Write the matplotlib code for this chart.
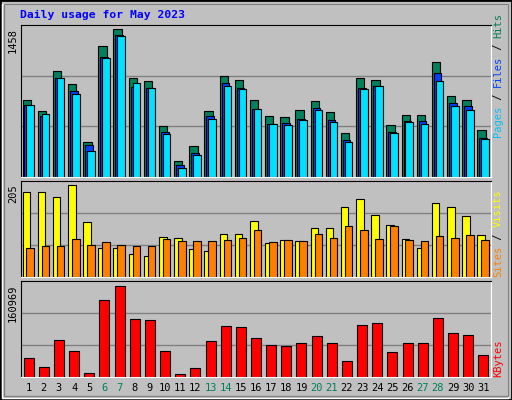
import numpy as np
import matplotlib
matplotlib.use("Agg")
import matplotlib.pyplot as plt
from matplotlib.patches import Rectangle

days = np.arange(1, 32)
weekend = [6, 7, 13, 14, 20, 21, 27, 28]

hits = [755, 654, 1048, 920, 348, 1294, 1458, 979, 949, 506, 161, 309, 654, 998, 959,
        762, 604, 594, 663, 752, 644, 437, 979, 959, 516, 614, 614, 1136, 801, 762, 466]
files = [706, 604, 979, 851, 319, 1186, 1402, 890, 880, 447, 122, 240, 604, 929, 880,
         673, 525, 535, 575, 683, 565, 368, 880, 900, 447, 555, 555, 1028, 732, 703, 388]
pages = [713, 624, 979, 821, 259, 1176, 1392, 929, 880, 427, 92, 220, 575, 900, 870,
         673, 525, 516, 565, 663, 545, 348, 870, 900, 437, 545, 525, 949, 703, 663, 378]
visits = [189, 189, 178, 205, 123, 65, 65, 51, 47, 89, 87, 62, 58, 96, 96, 125, 76,
          82, 80, 109, 109, 156, 174, 138, 116, 85, 65, 165, 156, 136, 94]
sites = [65, 69, 69, 85, 71, 78, 71, 69, 69, 85, 80, 80, 80, 82, 87, 105, 78, 82, 80,
         96, 87, 114, 105, 85, 114, 82, 80, 91, 87, 94, 82]
kbytes = [34075, 18213, 65800, 46413, 7638, 136300, 160969, 102813, 101050, 46413,
          5875, 16450, 64038, 90475, 88713, 69325, 56988, 55225, 60513, 72850, 60513,
          28788, 92238, 95763, 44650, 60513, 60513, 104575, 78138, 74613, 39363]

W, H = 512, 400
BG = "#c0c0c0"
MONO = "DejaVu Sans Mono"

fig = plt.figure(figsize=(W / 100, H / 100), dpi=100, facecolor=BG)

# 3D border of the webalizer image
fig.patches.append(Rectangle((0, 0), 1, 1, transform=fig.transFigure, fill=False,
                             edgecolor="black", linewidth=2))
fig.patches.append(Rectangle((2 / W, 2 / H), 1 - 6 / W, 1 - 6 / H, transform=fig.transFigure,
                             fill=False, edgecolor="white", linewidth=1))
fig.patches.append(Rectangle((4 / W, 4 / H), 1 - 8 / W, 1 - 8 / H, transform=fig.transFigure,
                             fill=False, edgecolor="#808080", linewidth=1))


def panel(top, bottom):
    x0, x1 = 21, 491
    ax = fig.add_axes([x0 / W, 1 - bottom / H, (x1 - x0) / W, (bottom - top) / H])
    ax.set_facecolor(BG)
    ax.set_xlim(0.5, 31.5)
    ax.set_xticks([])
    ax.set_yticks([])
    for s in ("top", "left"):
        ax.spines[s].set_color("black")
    for s in ("bottom", "right"):
        ax.spines[s].set_color("white")
    return ax


def grid(ax, vmax):
    for f in (1 / 3, 2 / 3):
        ax.axhline(vmax * f, color="#808080", linewidth=1.0, zorder=0)


# top: hits / files / pages
ax1 = panel(25, 177)
top1 = 1458 * 152 / 148
ax1.set_ylim(0, top1)
grid(ax1, top1)
ax1.bar(days - 0.4, hits, width=0.55, align="edge", color="#00805c", edgecolor="black", linewidth=0.8)
ax1.bar(days - 0.27, files, width=0.5, align="edge", color="#0040ff", edgecolor="black", linewidth=0.8)
ax1.bar(days - 0.14, pages, width=0.5, align="edge", color="#00e0ff", edgecolor="black", linewidth=0.8)

# middle: visits / sites
ax2 = panel(181, 277)
top2 = 205 * 96 / 92
ax2.set_ylim(0, top2)
grid(ax2, top2)
ax2.bar(days - 0.4, visits, width=0.5, align="edge", color="#ffff00", edgecolor="black", linewidth=0.8)
ax2.bar(days - 0.14, sites, width=0.5, align="edge", color="#ff8000", edgecolor="black", linewidth=0.8)

# bottom: kbytes
ax3 = panel(281, 377)
top3 = 160969 * 96 / 91.5
ax3.set_ylim(0, top3)
grid(ax3, top3)
ax3.bar(days - 0.33, kbytes, width=0.66, align="edge", color="#ff0000", edgecolor="black", linewidth=0.8)

# day labels
for d in days:
    x = 21 + (d - 0.5) * 470 / 31
    fig.text(x / W, 1 - 388 / H, str(d), ha="center", va="center", fontsize=7.5,
             family=MONO, color="#00805c" if d in weekend else "black")

fig.text(20 / W, 1 - 15 / H, "Daily usage for May 2023", ha="left", va="center",
         fontsize=8.2, fontweight="bold", family=MONO, color="#0000ff")

# max labels on the left
for txt, top in (("1458", 25), ("205", 181), ("160969", 281)):
    fig.text(13 / W, 1 - (top + 3) / H, txt, rotation=90, ha="center", va="top",
             fontsize=7.5, family=MONO, color="black")


def right_label(parts, y_bottom):
    y = y_bottom
    for txt, col in parts:
        fig.text(498 / W, 1 - y / H, txt, rotation=90, ha="center", va="bottom",
                 fontsize=7.5, family=MONO, color=col)
        y -= len(txt) * 6.2


right_label([("Pages", "#00c0ff"), (" / ", "black"), ("Files", "#0040ff"),
             (" / ", "black"), ("Hits", "#00805c")], 137)
right_label([("Sites", "#ff8000"), (" / ", "black"), ("Visits", "#ffff00")], 277)
right_label([("KBytes", "#ff0000")], 377)

fig.savefig("out.png", dpi=100, facecolor=BG)
